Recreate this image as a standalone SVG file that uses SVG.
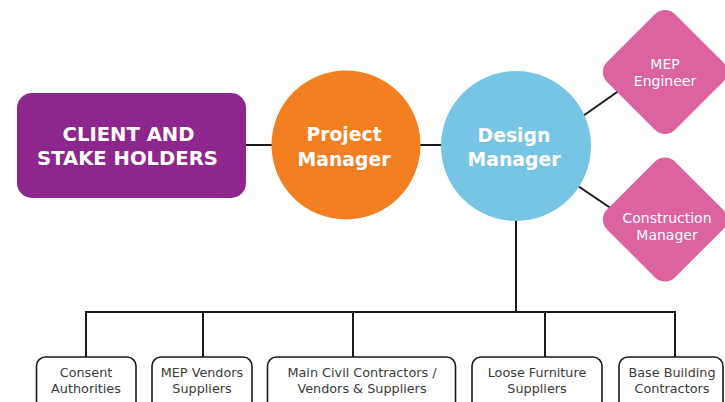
<svg xmlns="http://www.w3.org/2000/svg" width="725" height="402" viewBox="0 0 725 402">
<style>
.con{fill:none;stroke:#1a1a1a;stroke-width:2}
.big{font-family:"DejaVu Sans","Noto Sans",sans-serif;font-weight:700;fill:#fff;text-anchor:middle}
.dia{font-family:"DejaVu Sans","Noto Sans",sans-serif;font-size:14px;fill:#fff;text-anchor:middle}
.box{fill:#fff;stroke:#1a1a1a;stroke-width:1.6}
.sm{font-family:"DejaVu Sans","Noto Sans",sans-serif;font-size:12.8px;fill:#3a3a3a;text-anchor:middle}
.pink{fill:#DC63A0}
</style>
<rect width="725" height="402" fill="#fff"/>
<g id="connectors">
<line class="con" x1="245" y1="145" x2="273" y2="145"/>
<line class="con" x1="420" y1="145" x2="442" y2="145"/>
<line class="con" x1="583" y1="116" x2="620" y2="90"/>
<line class="con" x1="578" y1="186" x2="612" y2="209"/>
<line class="con" x1="516" y1="220" x2="516" y2="312"/>
<polyline class="con" points="86,357 86,312 675,312 675,357"/>
<line class="con" x1="203" y1="312" x2="203" y2="357"/>
<line class="con" x1="353" y1="312" x2="353" y2="357"/>
<line class="con" x1="545" y1="312" x2="545" y2="357"/>
</g>
<g id="client">
<rect x="17" y="93" width="229" height="105" rx="15" fill="#8E278D"/>
<text class="big" x="128.5" y="141" font-size="19.6">CLIENT AND</text>
<text class="big" x="127.5" y="165" font-size="19.6">STAKE HOLDERS</text>
</g>
<g id="project-manager">
<circle cx="346" cy="145" r="74.5" fill="#F47F20"/>
<text class="big" x="344" y="141" font-size="18.8">Project</text>
<text class="big" x="344" y="166" font-size="18.8">Manager</text>
</g>
<g id="design-manager">
<circle cx="516" cy="146" r="75" fill="#77C5E5"/>
<text class="big" x="514" y="142" font-size="18.8">Design</text>
<text class="big" x="514" y="166" font-size="18.8">Manager</text>
</g>
<g id="mep-engineer">
<rect class="pink" x="617" y="24" width="96" height="96" rx="14" transform="rotate(45 665 72)"/>
<text class="dia" x="665" y="69">MEP</text>
<text class="dia" x="665" y="86">Engineer</text>
</g>
<g id="construction-manager">
<rect class="pink" x="617" y="171.5" width="96" height="96" rx="14" transform="rotate(45 665 219.5)"/>
<text class="dia" x="667" y="223">Construction</text>
<text class="dia" x="667" y="240">Manager</text>
</g>
<g id="consent">
<rect class="box" x="36.5" y="357" width="99.5" height="60" rx="9"/>
<text class="sm" x="86" y="377">Consent</text>
<text class="sm" x="86" y="393">Authorities</text>
</g>
<g id="mep-vendors">
<rect class="box" x="152" y="357" width="100" height="60" rx="9"/>
<text class="sm" x="202" y="377">MEP Vendors</text>
<text class="sm" x="202" y="393">Suppliers</text>
</g>
<g id="main-civil">
<rect class="box" x="267.5" y="357" width="188" height="60" rx="9"/>
<text class="sm" x="362" y="377">Main Civil Contractors /</text>
<text class="sm" x="362" y="393">Vendors &amp; Suppliers</text>
</g>
<g id="loose-furniture">
<rect class="box" x="472" y="357" width="130" height="60" rx="9"/>
<text class="sm" x="537" y="377">Loose Furniture</text>
<text class="sm" x="537" y="393">Suppliers</text>
</g>
<g id="base-building">
<rect class="box" x="619" y="357" width="104" height="60" rx="9"/>
<text class="sm" x="672" y="377">Base Building</text>
<text class="sm" x="672" y="393">Contractors</text>
</g>
</svg>
